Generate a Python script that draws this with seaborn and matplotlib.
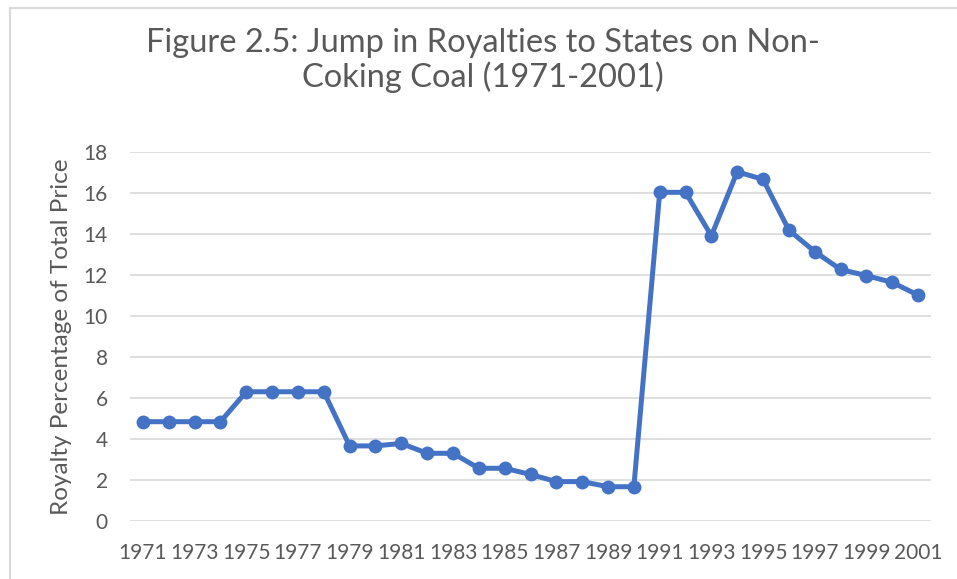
import matplotlib
matplotlib.use("Agg")
import matplotlib.pyplot as plt
import seaborn as sns
import pandas as pd
from matplotlib.lines import Line2D

years = list(range(1971, 2002))
royalty_pct = [4.84, 4.84, 4.84, 4.84, 6.30, 6.30, 6.30, 6.30, 3.66, 3.66,
               3.78, 3.30, 3.30, 2.57, 2.57, 2.27, 1.92, 1.92, 1.67, 1.67,
               16.02, 16.02, 13.90, 17.02, 16.65, 14.18, 13.13, 12.26, 11.96, 11.63,
               11.01]
tick_years = list(range(1971, 2002, 2))
title_lines = ["Figure 2.5: Jump in Royalties to States on Non-",
               "Coking Coal (1971-2001)"]
ylabel_text = "Royalty Percentage of Total Price"

df = pd.DataFrame({"year": years, "pct": royalty_pct})

sns.set_theme(style="white")
plt.rcParams['font.family'] = ['Lato', 'DejaVu Sans']

text_color = "#595959"
line_color = "#4472C4"
grid_color = "#D9D9D9"

fig = plt.figure(figsize=(9.57, 5.79), dpi=100)
ax = fig.add_axes([130/957, 1-521/579, (931-130)/957, (521-151.7)/579])

sns.lineplot(data=df, x="year", y="pct", ax=ax, color=line_color, linewidth=3.6,
             marker="o", markersize=10, markeredgewidth=0, zorder=3)

ax.set_xlim(1970.5, 2001.5)
ax.set_ylim(0, 18)
ax.set_yticks(range(0, 19, 2))
ax.set_xticks(tick_years)
ax.set_xticklabels([str(y) for y in tick_years])
ax.yaxis.grid(True, color=grid_color, linewidth=1.2)
ax.xaxis.grid(False)
for s in ax.spines.values():
    s.set_visible(False)
ax.tick_params(axis='both', length=0, labelsize=15, labelcolor=text_color)
ax.tick_params(axis='y', pad=16)
ax.tick_params(axis='x', pad=16)
ax.set_xlabel("")
ax.set_ylabel(ylabel_text, fontsize=17.5, color=text_color, labelpad=8)

for line, base_y in zip(title_lines, [52, 87]):
    fig.text(483/957, 1-base_y/579, line, ha="center", va="baseline",
             fontsize=23.5, color=text_color)

# chart border
fig.add_artist(Line2D([9.5/957, 9.5/957], [0, 1-7.5/579], transform=fig.transFigure,
                      color="#D9D9D9", linewidth=1.5))
fig.add_artist(Line2D([9.5/957, 1], [1-7.5/579, 1-7.5/579], transform=fig.transFigure,
                      color="#D9D9D9", linewidth=1.5))

fig.savefig("out.png", dpi=100, facecolor="white")
